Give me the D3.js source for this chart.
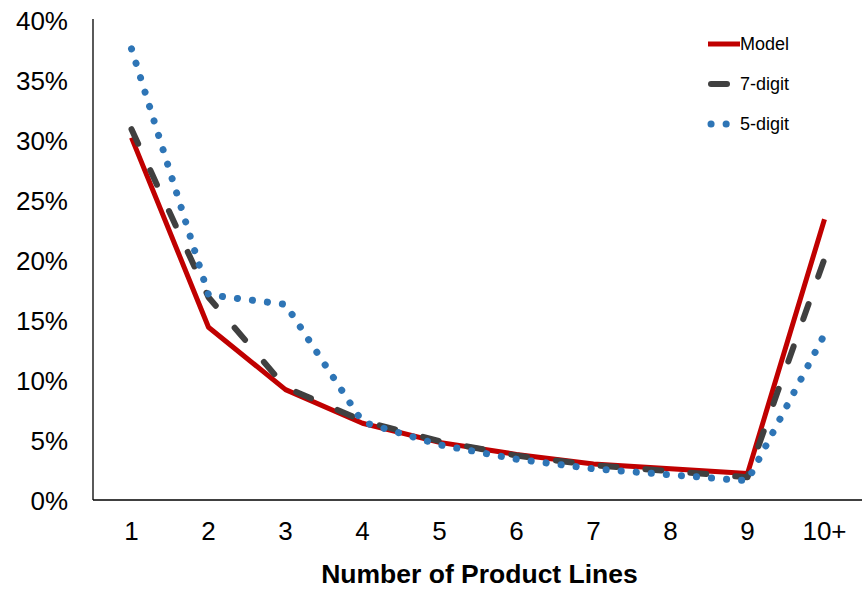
<!DOCTYPE html>
<html>
<head>
<meta charset="utf-8">
<script src="https://cdn.jsdelivr.net/npm/d3@7"></script>
<style>
  body { margin: 0; background: #fff; }
  text { font-family: "Liberation Sans", Arial, sans-serif; fill: #000; }
</style>
</head>
<body>
<div id="chart"></div>
<script>
// chart data
const categories = ["1", "2", "3", "4", "5", "6", "7", "8", "9", "10+"];
const modelValues = [30.2, 14.4, 9.2, 6.4, 4.8, 3.8, 3.0, 2.6, 2.2, 23.4];
const sevenDigit = [30.9, 16.9, 9.4, 6.6, 4.9, 3.7, 2.9, 2.4, 1.9, 20.1];
const fiveDigit = [37.6, 17.1, 16.3, 6.5, 4.6, 3.4, 2.6, 2.1, 1.6, 13.8];
const yTicks = [0, 5, 10, 15, 20, 25, 30, 35, 40];

const width = 862, height = 590;
const margin = { top: 20, right: 0, bottom: 90, left: 93 };

const svg = d3.select("#chart").append("svg")
  .attr("width", width)
  .attr("height", height);

const x = d3.scaleBand()
  .domain(categories)
  .range([margin.left, width - margin.right + 1]);

const y = d3.scaleLinear()
  .domain([0, 40])
  .range([height - margin.bottom, margin.top]);

// axes, no tick marks
const yAxis = svg.append("g")
  .attr("transform", `translate(${margin.left},0)`)
  .call(d3.axisLeft(y).tickValues(yTicks).tickSize(0).tickPadding(25).tickFormat(d => d + "%"));
yAxis.select(".domain").attr("stroke", "#000").attr("stroke-width", 1.3).attr("d", `M0,${y(40) - 1}V${y(0)}`);
yAxis.selectAll("text").style("font-size", "26px").attr("dy", "0.35em");

const xAxis = svg.append("g")
  .attr("transform", `translate(0,${y(0)})`)
  .call(d3.axisBottom(x).tickSize(0).tickPadding(22));
xAxis.select(".domain").attr("stroke", "#000").attr("stroke-width", 1.3)
  .attr("d", `M${margin.left},0H${width}`);
xAxis.selectAll("text").style("font-size", "26px");

svg.append("text")
  .attr("x", (margin.left + width) / 2 + 2)
  .attr("y", 583)
  .attr("text-anchor", "middle")
  .style("font-size", "26.5px")
  .style("font-weight", "bold")
  .text("Number of Product Lines");

const line = d3.line()
  .x((d, i) => x(categories[i]) + x.bandwidth() / 2)
  .y(d => y(d));

const series = [
  { name: "Model", values: modelValues, color: "#C00000", width: 5, dash: null, cap: "butt" },
  { name: "7-digit", values: sevenDigit, color: "#404040", width: 6, dash: "16,29", cap: "round" },
  { name: "5-digit", values: fiveDigit, color: "#2E75B6", width: 7, dash: "0.1,15", cap: "round" }
];

series.forEach(s => {
  svg.append("path")
    .datum(s.values)
    .attr("fill", "none")
    .attr("stroke", s.color)
    .attr("stroke-width", s.width)
    .attr("stroke-linecap", s.cap)
    .attr("stroke-linejoin", "round")
    .attr("stroke-dasharray", s.dash)
    .attr("d", line);
});

// legend
const legend = svg.append("g").attr("transform", "translate(708,44)");
series.forEach((s, i) => {
  const g = legend.append("g").attr("transform", `translate(0,${i * 40})`);
  g.append("line")
    .attr("x1", s.cap === "round" ? 3 : 0).attr("x2", s.name === "Model" ? 32 : 25)
    .attr("stroke", s.color)
    .attr("stroke-width", s.width)
    .attr("stroke-linecap", s.cap)
    .attr("stroke-dasharray", s.dash);
  g.append("text")
    .attr("x", 32)
    .attr("dy", "0.35em")
    .style("font-size", "18px")
    .text(s.name);
});
</script>
</body>
</html>
